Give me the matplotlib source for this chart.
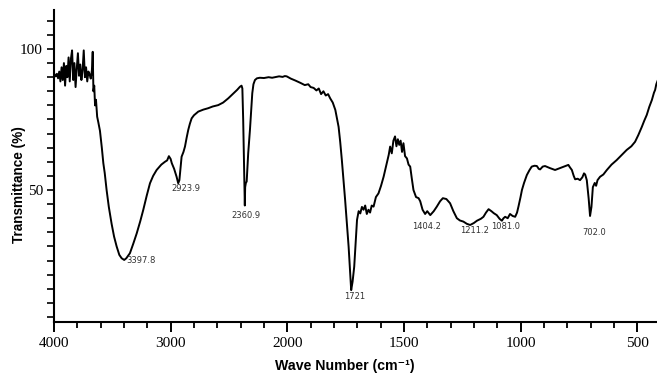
import numpy as np
import matplotlib
matplotlib.use("Agg")
import matplotlib.pyplot as plt

# FTIR spectrum (wave number cm-1 -> transmittance %)
wave_number = [
    3995, 3985, 3975, 3965, 3955, 3945, 3935, 3925, 3915, 3905, 3895, 3885, 3875, 3865,
    3855, 3845, 3835, 3825, 3815, 3805, 3795, 3785, 3775, 3765, 3755, 3745, 3735, 3725,
    3715, 3705, 3695, 3685, 3675, 3668, 3662, 3655, 3648, 3640, 3630, 3620, 3606, 3590,
    3577, 3565, 3549, 3530, 3506, 3485, 3463, 3440, 3420, 3398, 3380, 3349, 3320, 3291,
    3260, 3235, 3205, 3177, 3150, 3120, 3080, 3049, 3030, 3015, 3000, 2990, 2970, 2949,
    2935, 2925, 2915, 2906, 2890, 2877, 2863, 2849, 2835, 2820, 2800, 2763, 2720, 2678,
    2640, 2592, 2550, 2506, 2460, 2430, 2406, 2392, 2385, 2378, 2372, 2368, 2364, 2361,
    2355, 2348, 2343, 2335, 2320, 2310, 2300, 2290, 2277, 2260, 2235, 2200, 2160, 2130,
    2106, 2070, 2040, 2021, 2005, 1985, 1965, 1944, 1925, 1910, 1900, 1887, 1875, 1865,
    1855, 1845, 1835, 1825, 1816, 1805, 1794, 1785, 1780, 1773, 1766, 1759, 1752, 1745,
    1737, 1730, 1726, 1720, 1713, 1707, 1701, 1694, 1687, 1680, 1673, 1666, 1659, 1652,
    1645, 1638, 1630, 1620, 1609, 1598, 1587, 1575, 1565, 1559, 1552, 1545, 1538, 1532,
    1526, 1520, 1514, 1508, 1502, 1495, 1487, 1480, 1473, 1466, 1459, 1448, 1437, 1430,
    1420, 1409, 1400, 1387, 1372, 1359, 1345, 1333, 1318, 1302, 1288, 1273, 1260, 1245,
    1230, 1216, 1200, 1187, 1170, 1159, 1148, 1137, 1125, 1115, 1102, 1090, 1080, 1073,
    1066, 1055, 1045, 1034, 1023, 1015, 1009, 1000, 994, 985, 973, 962, 952, 940,
    930, 922, 916, 905, 895, 875, 852, 830, 810, 795, 788, 780, 772, 766,
    755, 745, 735, 728, 723, 716, 708, 702, 696, 690, 682, 676, 670, 659,
    645, 630, 610, 588, 565, 545, 525, 509, 495, 480, 470, 459, 448, 437,
    428, 423, 418, 413,
]
transmittance = [
    91.0, 90.3, 91.2, 89.6, 92.0, 88.5, 93.5, 89.0, 95.0, 87.0, 94.0, 90.0, 97.0, 88.5,
    96.5, 99.5, 89.0, 95.0, 86.5, 93.0, 98.5, 90.5, 94.5, 89.0, 92.5, 99.5, 90.0, 93.5,
    88.5, 92.0, 91.0, 89.5, 92.5, 99.0, 85.0, 87.0, 80.0, 82.0, 76.0, 74.0, 71.0, 65.0,
    59.5, 56.0, 50.0, 44.0, 38.0, 33.5, 30.0, 27.0, 25.8, 25.2, 25.8, 27.6, 31.0, 34.6,
    39.0, 42.9, 48.0, 52.4, 55.0, 57.1, 59.0, 60.0, 60.5, 62.0, 61.0, 59.5, 57.5, 54.7,
    52.4, 53.5, 58.0, 61.8, 63.5, 65.4, 68.5, 71.3, 73.5, 75.4, 76.5, 77.8, 78.5, 79.0,
    79.6, 80.1, 81.0, 82.5, 84.3, 85.5, 86.6, 87.0, 86.0, 75.0, 62.0, 55.0, 44.5, 51.0,
    52.5, 53.0, 57.1, 63.0, 71.3, 78.0, 84.3, 87.5, 89.0, 89.6, 89.8, 89.7, 90.0, 89.8,
    90.0, 90.3, 90.1, 90.4, 90.3, 89.5, 88.8, 88.0, 87.2, 87.5, 86.5, 86.2, 85.3, 86.0,
    84.0, 85.0, 83.5, 84.0, 82.5, 81.0, 78.4, 74.5, 72.4, 67.0, 60.6, 53.5, 46.5, 38.5,
    29.9, 20.0, 14.5, 17.5, 22.8, 31.0, 39.4, 42.5, 41.7, 44.0, 43.0, 44.5, 41.5, 43.0,
    42.0, 44.5, 44.1, 47.5, 48.8, 51.5, 54.7, 59.0, 62.5, 65.4, 63.0, 67.5, 69.0, 65.5,
    68.0, 66.0, 67.5, 63.5, 66.6, 62.0, 61.2, 59.0, 58.3, 54.0, 50.0, 47.5, 47.1, 46.0,
    43.0, 41.5, 42.5, 41.1, 42.5, 44.1, 46.0, 47.1, 46.8, 45.3, 42.5, 40.0, 39.2, 38.8,
    38.0, 37.6, 38.3, 39.1, 39.8, 40.5, 42.0, 43.2, 42.5, 41.8, 41.1, 39.8, 39.1, 40.0,
    40.5, 40.0, 41.5, 40.8, 40.5, 42.0, 44.1, 47.5, 50.0, 52.5, 55.3, 57.0, 58.3, 58.6,
    58.5, 57.5, 57.3, 58.3, 58.5, 57.8, 57.1, 57.8, 58.4, 58.9, 58.0, 57.1, 55.0, 53.8,
    54.0, 53.5, 54.5, 55.9, 55.5, 53.5, 47.0, 40.8, 44.0, 51.0, 52.5, 51.5, 53.5, 54.7,
    55.5, 57.1, 59.0, 60.6, 62.5, 64.2, 65.5, 67.1, 69.5, 72.4, 74.5, 76.6, 79.5, 81.9,
    84.5, 85.5, 87.5, 88.6,
]

# peak labels and where their text sits (wave number, transmittance)
peak_labels = ["3397.8", "2923.9", "2360.9", "1721", "1404.2", "1211.2", "1081.0", "702.0"]
label_wn = [3254, 2865, 2355, 1711, 1404, 1199, 1064, 685]
label_t = [25.0, 50.5, 41.1, 12.1, 37.2, 35.5, 37.1, 34.9]

major_ticks = [4000, 3000, 2000, 1500, 1000, 500]
minor_ticks = [3800, 3600, 3400, 3200, 2800, 2600, 2400, 2200,
               1900, 1800, 1700, 1600, 1400, 1300, 1200, 1100,
               900, 800, 700, 600]


# the axis is stretched 2x below 2000 cm-1
def vpered(w):
    w = np.asarray(w, dtype=float)
    return np.where(w >= 2000, w, 2 * w - 2000)


def nazad(p):
    p = np.asarray(p, dtype=float)
    return np.where(p >= 2000, p, (p + 2000) / 2)


fig = plt.figure(figsize=(6.57, 3.74), dpi=100)
ax = fig.add_axes([54 / 657, 1 - 322 / 374, 1 - 54 / 657, (322 - 9.5) / 374])
ax.set_xscale("function", functions=(vpered, nazad))

ax.plot(wave_number, transmittance, color="black", linewidth=1.4)

for txt, x, y in zip(peak_labels, label_wn, label_t):
    ax.text(x, y, txt, fontsize=6, color="#333333", ha="center", va="center",
            family="DejaVu Sans")

ax.set_xlim(4000, 415)
ax.set_ylim(3.2, 114)

ax.set_xticks(major_ticks)
ax.set_xticks(minor_ticks, minor=True)
ax.set_xticklabels([str(t) for t in major_ticks])
ax.set_yticks([50, 100])
ax.set_yticks([v for v in range(5, 115, 5) if v not in (50, 100)], minor=True)

for lab in ax.get_xticklabels() + ax.get_yticklabels():
    lab.set_fontfamily("Liberation Serif")
    lab.set_fontsize(11)

ax.tick_params(axis="x", which="major", length=7, width=1.4, direction="out", pad=4)
ax.tick_params(axis="x", which="minor", length=4, width=1.3, direction="out")
ax.tick_params(axis="y", which="both", length=5, width=1.2, direction="out", pad=3)

ax.spines["top"].set_visible(False)
ax.spines["right"].set_visible(False)
ax.spines["left"].set_linewidth(1.5)
ax.spines["bottom"].set_linewidth(1.5)

fig.text(345 / 657, 1 - 366 / 374, "Wave Number (cm⁻¹)", ha="center", va="center",
         fontsize=10.2, fontweight="bold", family=["Liberation Sans", "DejaVu Sans"])
fig.text(19 / 657, 1 - 185 / 374, "Transmittance (%)", ha="center", va="center",
         rotation=90, fontsize=9.8, fontweight="bold", family=["Liberation Sans", "DejaVu Sans"])

fig.savefig("out.png", dpi=100)
